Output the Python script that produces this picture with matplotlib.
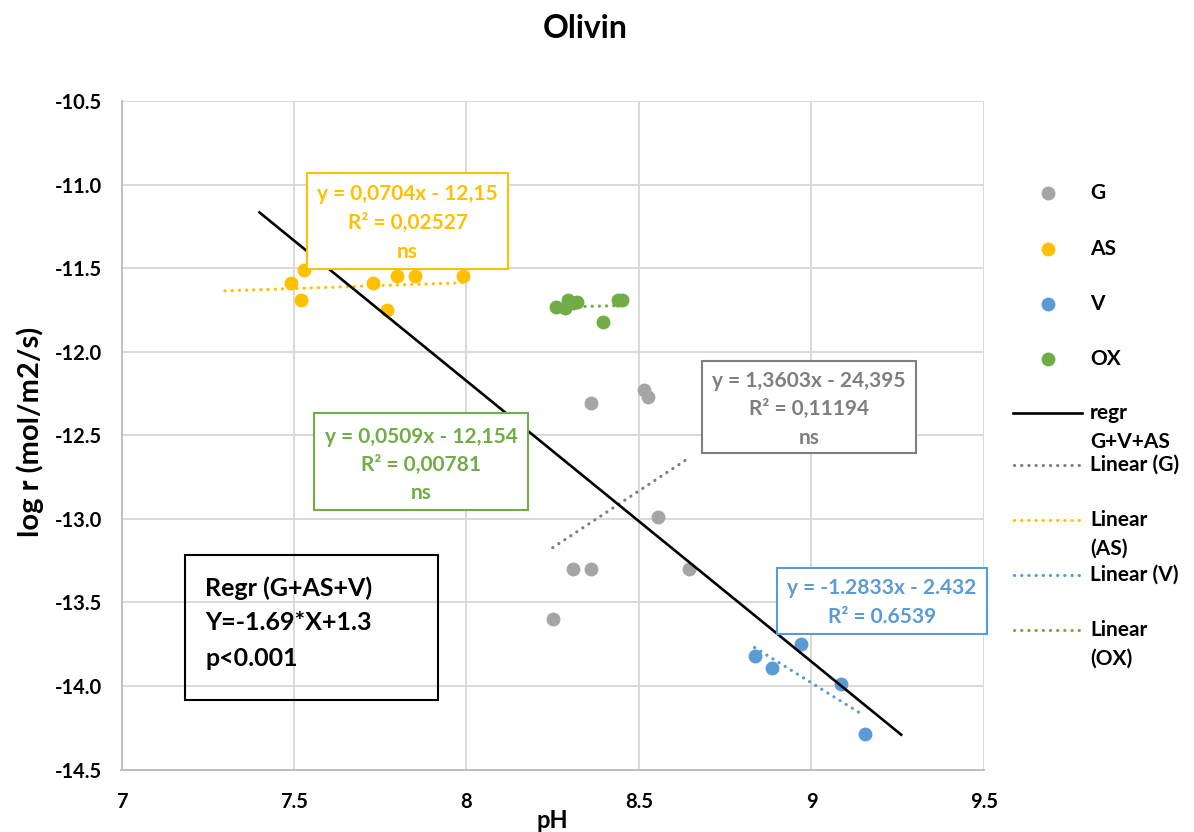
import numpy as np
import matplotlib
matplotlib.use("Agg")
import matplotlib.pyplot as plt
from matplotlib.patches import Rectangle
from matplotlib.lines import Line2D

plt.rcParams['font.family'] = ['Lato', 'DejaVu Sans']
plt.rcParams['font.weight'] = 'bold'

# data
g_x = [8.36, 8.515, 8.525, 8.555, 8.31, 8.36, 8.645, 8.25]
g_y = [-12.31, -12.23, -12.27, -12.99, -13.30, -13.30, -13.30, -13.60]
as_x = [7.53, 7.49, 7.52, 7.73, 7.77, 7.80, 7.85, 7.99]
as_y = [-11.51, -11.59, -11.69, -11.59, -11.75, -11.55, -11.55, -11.55]
v_x = [8.97, 8.835, 8.885, 9.085, 9.155]
v_y = [-13.75, -13.82, -13.89, -13.99, -14.29]
ox_x = [8.26, 8.285, 8.295, 8.31, 8.32, 8.44, 8.45, 8.395]
ox_y = [-11.73, -11.74, -11.69, -11.71, -11.70, -11.69, -11.69, -11.82]

# trendlines: slope, intercept, x range
g_fit = (1.3603, -24.395, 8.25, 8.645)
as_fit = (0.0704, -12.15, 7.30, 7.99)
v_fit = (-1.2833, -2.432, 8.835, 9.15)
ox_fit = (0.0509, -12.154, 8.26, 8.45)
regr_fit = (-1.68, 1.265, 7.40, 9.26)

xticks = [7, 7.5, 8, 8.5, 9, 9.5]
xticklabels = ['7', '7.5', '8', '8.5', '9', '9.5']
yticks = [-10.5, -11.0, -11.5, -12.0, -12.5, -13.0, -13.5, -14.0, -14.5]

c_g = '#A5A5A5'
c_gt = '#7F7F7F'
c_as = '#FFC000'
c_v = '#5B9BD5'
c_ox = '#70AD47'

W, H = 1194, 832
fig = plt.figure(figsize=(W / 100, H / 100), dpi=100)
ax = fig.add_axes([121.5 / W, 1 - 769.5 / H, (984 - 121.5) / W, (769.5 - 101) / H])

def px(x, y):
  return x / W, 1 - y / H

dot = (0, (0.05, 2.2))

def trend(fit, color):
  a, b, x0, x1 = fit
  xs = np.array([x0, x1])
  ax.plot(xs, a * xs + b, color=color, lw=2.3, linestyle=dot,
          dash_capstyle='round', zorder=4)

ms = 10
ax.plot(g_x, g_y, 'o', color=c_g, ms=ms, mec='none', zorder=3)
ax.plot(as_x, as_y, 'o', color=c_as, ms=ms, mec='none', zorder=3)
ax.plot(v_x, v_y, 'o', color=c_v, ms=ms, mec='none', zorder=3)
ax.plot(ox_x, ox_y, 'o', color=c_ox, ms=ms, mec='none', zorder=3)

a, b, x0, x1 = regr_fit
xs = np.array([x0, x1])
ax.plot(xs, a * xs + b, color='black', lw=1.9, zorder=5)
trend(g_fit, c_gt)
trend(as_fit, c_as)
trend(v_fit, c_v)
trend(ox_fit, c_ox)

ax.set_xlim(7, 9.5)
ax.set_ylim(-14.5, -10.5)
ax.set_xticks(xticks)
ax.set_xticklabels(xticklabels)
ax.set_yticks(yticks)
ax.set_yticklabels(['%.1f' % t for t in yticks])
ax.tick_params(length=0, labelsize=14.5, pad=14)
ax.tick_params(axis='x', pad=16)
ax.grid(True, color='#D9D9D9', lw=1.4)
ax.set_axisbelow(True)
for s in ['top', 'right']:
  ax.spines[s].set_visible(False)
for s in ['left', 'bottom']:
  ax.spines[s].set_color('#BFBFBF')
  ax.spines[s].set_linewidth(1.4)

fig.text(*px(585, 28), 'Olivin', ha='center', va='center', fontsize=23)
fig.text(*px(552, 821), 'pH', ha='center', va='center', fontsize=17)
fig.text(*px(30, 432), 'log r (mol/m2/s)', ha='center', va='center',
         fontsize=21, rotation=90)

# equation boxes (pixel layout)
def box(l, r, t, bt, color, lines, ys, fill='white', ha='center', tx=None, size=15):
  fig.patches.append(Rectangle(px(l, bt), (r - l) / W, (bt - t) / H,
                               transform=fig.transFigure, fc=fill, ec=color,
                               lw=1.5, zorder=6))
  for s, yy in zip(lines, ys):
    x = (l + r) / 2 if tx is None else tx
    fig.text(*px(x, yy), s, ha=ha, va='center', color=color, fontsize=size, zorder=7)

box(307, 508, 173, 269, c_as, ['y = 0,0704x - 12,15', 'R² = 0,02527', 'ns'], [194, 223, 252])
box(702, 916, 361, 453, c_gt, ['y = 1,3603x - 24,395', 'R² = 0,11194', 'ns'], [381, 409, 438])
box(314, 528, 413, 510, c_ox, ['y = 0,0509x - 12,154', 'R² = 0,00781', 'ns'], [437, 465, 493])
box(777, 987, 568, 634, c_v, ['y = -1.2833x - 2.432', 'R² = 0.6539'], [588, 617])
box(185, 438, 555, 700, 'black', ['Regr (G+AS+V)', 'Y=-1.69*X+1.3', 'p<0.001'],
    [588, 623, 658], fill='none', ha='left', tx=205, size=18)

# legend
leg_y = [193, 249, 304, 359, 413, 465, 520, 575, 630]
leg_lab = ['G', 'AS', 'V', 'OX', 'regr\nG+V+AS', 'Linear (G)', 'Linear\n(AS)',
           'Linear (V)', 'Linear\n(OX)']
for i, (yy, lab) in enumerate(zip(leg_y, leg_lab)):
  if i < 4:
    col = [c_g, c_as, c_v, c_ox][i]
    fig.lines.append(Line2D([1048 / W], [1 - yy / H], marker='o', ms=ms, color=col,
                            mec='none', transform=fig.transFigure))
  elif i == 4:
    fig.lines.append(Line2D([1013 / W, 1082 / W], [1 - yy / H] * 2, color='black',
                            lw=1.9, transform=fig.transFigure))
  else:
    col = [c_gt, c_as, c_v, c_ox][i - 5]
    fig.lines.append(Line2D([1014 / W, 1082 / W], [1 - yy / H] * 2, color=col,
                            lw=2.3, linestyle=dot, dash_capstyle='round',
                            transform=fig.transFigure))
  for k, part in enumerate(lab.split('\n')):
    fig.text(*px(1090, yy + 29 * k), part, ha='left', va='center', fontsize=15)

fig.savefig('out.png', dpi=100)
